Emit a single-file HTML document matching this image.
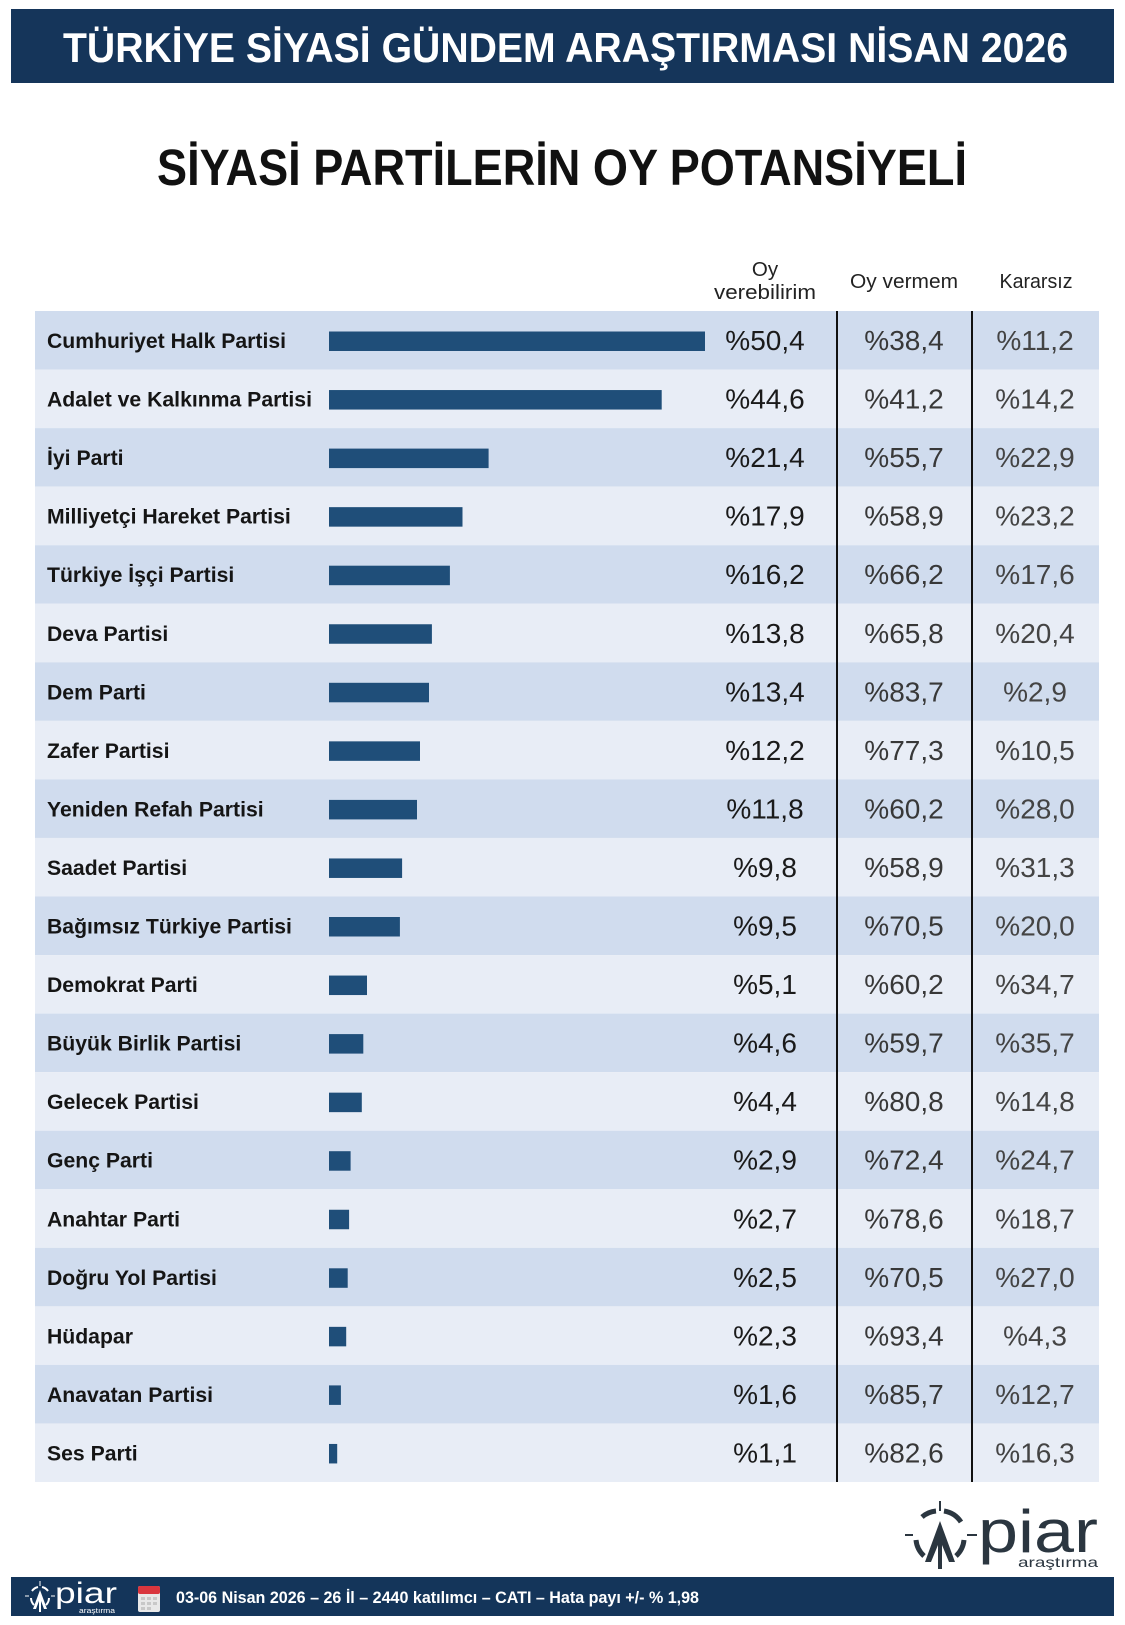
<!DOCTYPE html>
<html><head><meta charset="utf-8"><style>
html,body{margin:0;padding:0;background:#fff;}
svg{display:block;}
text{font-family:"Liberation Sans",Arial,sans-serif;}
</style></head><body>
<svg width="1125" height="1625" viewBox="0 0 1125 1625" xmlns="http://www.w3.org/2000/svg">
<rect x="0" y="0" width="1125" height="1625" fill="#ffffff"/>
<!-- header -->
<rect x="11" y="9" width="1103" height="74" fill="#15355a"/>
<text x="63" y="62" font-size="42" font-weight="bold" fill="#ffffff" textLength="1005" lengthAdjust="spacingAndGlyphs">TÜRKİYE SİYASİ GÜNDEM ARAŞTIRMASI NİSAN 2026</text>
<!-- title -->
<text x="157" y="185" font-size="51" font-weight="bold" fill="#111111" textLength="810" lengthAdjust="spacingAndGlyphs">SİYASİ PARTİLERİN OY POTANSİYELİ</text>
<!-- column headers -->
<g font-size="20.5" fill="#222222" text-anchor="middle">
<text x="765" y="276">Oy</text>
<text x="765" y="299" textLength="102" lengthAdjust="spacingAndGlyphs">verebilirim</text>
<text x="904" y="288" textLength="108" lengthAdjust="spacingAndGlyphs">Oy vermem</text>
<text x="1036" y="288" textLength="73" lengthAdjust="spacingAndGlyphs">Kararsız</text>
</g>
<!-- rows -->
<g id="rows">
<rect x="35" y="311.00" width="1064" height="58.55" fill="#d0dcee"/>
<rect x="35" y="369.55" width="1064" height="58.55" fill="#e8edf6"/>
<rect x="35" y="428.10" width="1064" height="58.55" fill="#d0dcee"/>
<rect x="35" y="486.65" width="1064" height="58.55" fill="#e8edf6"/>
<rect x="35" y="545.20" width="1064" height="58.55" fill="#d0dcee"/>
<rect x="35" y="603.75" width="1064" height="58.55" fill="#e8edf6"/>
<rect x="35" y="662.30" width="1064" height="58.55" fill="#d0dcee"/>
<rect x="35" y="720.85" width="1064" height="58.55" fill="#e8edf6"/>
<rect x="35" y="779.40" width="1064" height="58.55" fill="#d0dcee"/>
<rect x="35" y="837.95" width="1064" height="58.55" fill="#e8edf6"/>
<rect x="35" y="896.50" width="1064" height="58.55" fill="#d0dcee"/>
<rect x="35" y="955.05" width="1064" height="58.55" fill="#e8edf6"/>
<rect x="35" y="1013.60" width="1064" height="58.55" fill="#d0dcee"/>
<rect x="35" y="1072.15" width="1064" height="58.55" fill="#e8edf6"/>
<rect x="35" y="1130.70" width="1064" height="58.55" fill="#d0dcee"/>
<rect x="35" y="1189.25" width="1064" height="58.55" fill="#e8edf6"/>
<rect x="35" y="1247.80" width="1064" height="58.55" fill="#d0dcee"/>
<rect x="35" y="1306.35" width="1064" height="58.55" fill="#e8edf6"/>
<rect x="35" y="1364.90" width="1064" height="58.55" fill="#d0dcee"/>
<rect x="35" y="1423.45" width="1064" height="58.55" fill="#e8edf6"/>
</g>
<!-- bars -->
<g fill="#1f4e79">
<rect x="329" y="331.50" width="376.0" height="19.5"/>
<rect x="329" y="390.05" width="332.7" height="19.5"/>
<rect x="329" y="448.60" width="159.6" height="19.5"/>
<rect x="329" y="507.15" width="133.5" height="19.5"/>
<rect x="329" y="565.70" width="120.9" height="19.5"/>
<rect x="329" y="624.25" width="102.9" height="19.5"/>
<rect x="329" y="682.80" width="100.0" height="19.5"/>
<rect x="329" y="741.35" width="91.0" height="19.5"/>
<rect x="329" y="799.90" width="88.0" height="19.5"/>
<rect x="329" y="858.45" width="73.1" height="19.5"/>
<rect x="329" y="917.00" width="70.9" height="19.5"/>
<rect x="329" y="975.55" width="38.0" height="19.5"/>
<rect x="329" y="1034.10" width="34.3" height="19.5"/>
<rect x="329" y="1092.65" width="32.8" height="19.5"/>
<rect x="329" y="1151.20" width="21.6" height="19.5"/>
<rect x="329" y="1209.75" width="20.1" height="19.5"/>
<rect x="329" y="1268.30" width="18.7" height="19.5"/>
<rect x="329" y="1326.85" width="17.2" height="19.5"/>
<rect x="329" y="1385.40" width="11.9" height="19.5"/>
<rect x="329" y="1443.95" width="8.2" height="19.5"/>
</g>
<!-- labels -->
<g font-size="21.2" font-weight="bold" fill="#151515">
<text x="47" y="348.0">Cumhuriyet Halk Partisi</text>
<text x="47" y="406.6">Adalet ve Kalkınma Partisi</text>
<text x="47" y="465.1">İyi Parti</text>
<text x="47" y="523.7">Milliyetçi Hareket Partisi</text>
<text x="47" y="582.2">Türkiye İşçi Partisi</text>
<text x="47" y="640.8">Deva Partisi</text>
<text x="47" y="699.3">Dem Parti</text>
<text x="47" y="757.9">Zafer Partisi</text>
<text x="47" y="816.4">Yeniden Refah Partisi</text>
<text x="47" y="875.0">Saadet Partisi</text>
<text x="47" y="933.5">Bağımsız Türkiye Partisi</text>
<text x="47" y="992.1">Demokrat Parti</text>
<text x="47" y="1050.6">Büyük Birlik Partisi</text>
<text x="47" y="1109.2">Gelecek Partisi</text>
<text x="47" y="1167.7">Genç Parti</text>
<text x="47" y="1226.3">Anahtar Parti</text>
<text x="47" y="1284.8">Doğru Yol Partisi</text>
<text x="47" y="1343.4">Hüdapar</text>
<text x="47" y="1401.9">Anavatan Partisi</text>
<text x="47" y="1460.5">Ses Parti</text>
</g>
<!-- values col 1 -->
<g font-size="28" fill="#1a1a1a" text-anchor="middle">
<text x="765" y="350.0">%50,4</text>
<text x="765" y="408.6">%44,6</text>
<text x="765" y="467.1">%21,4</text>
<text x="765" y="525.7">%17,9</text>
<text x="765" y="584.2">%16,2</text>
<text x="765" y="642.8">%13,8</text>
<text x="765" y="701.3">%13,4</text>
<text x="765" y="759.9">%12,2</text>
<text x="765" y="818.4">%11,8</text>
<text x="765" y="877.0">%9,8</text>
<text x="765" y="935.5">%9,5</text>
<text x="765" y="994.1">%5,1</text>
<text x="765" y="1052.6">%4,6</text>
<text x="765" y="1111.2">%4,4</text>
<text x="765" y="1169.7">%2,9</text>
<text x="765" y="1228.3">%2,7</text>
<text x="765" y="1286.8">%2,5</text>
<text x="765" y="1345.4">%2,3</text>
<text x="765" y="1403.9">%1,6</text>
<text x="765" y="1462.5">%1,1</text>
</g>
<!-- values col 2 -->
<g font-size="28" fill="#383838" text-anchor="middle">
<text x="904" y="350.0">%38,4</text>
<text x="904" y="408.6">%41,2</text>
<text x="904" y="467.1">%55,7</text>
<text x="904" y="525.7">%58,9</text>
<text x="904" y="584.2">%66,2</text>
<text x="904" y="642.8">%65,8</text>
<text x="904" y="701.3">%83,7</text>
<text x="904" y="759.9">%77,3</text>
<text x="904" y="818.4">%60,2</text>
<text x="904" y="877.0">%58,9</text>
<text x="904" y="935.5">%70,5</text>
<text x="904" y="994.1">%60,2</text>
<text x="904" y="1052.6">%59,7</text>
<text x="904" y="1111.2">%80,8</text>
<text x="904" y="1169.7">%72,4</text>
<text x="904" y="1228.3">%78,6</text>
<text x="904" y="1286.8">%70,5</text>
<text x="904" y="1345.4">%93,4</text>
<text x="904" y="1403.9">%85,7</text>
<text x="904" y="1462.5">%82,6</text>
</g>
<!-- values col 3 -->
<g font-size="28" fill="#444444" text-anchor="middle">
<text x="1035" y="350.0">%11,2</text>
<text x="1035" y="408.6">%14,2</text>
<text x="1035" y="467.1">%22,9</text>
<text x="1035" y="525.7">%23,2</text>
<text x="1035" y="584.2">%17,6</text>
<text x="1035" y="642.8">%20,4</text>
<text x="1035" y="701.3">%2,9</text>
<text x="1035" y="759.9">%10,5</text>
<text x="1035" y="818.4">%28,0</text>
<text x="1035" y="877.0">%31,3</text>
<text x="1035" y="935.5">%20,0</text>
<text x="1035" y="994.1">%34,7</text>
<text x="1035" y="1052.6">%35,7</text>
<text x="1035" y="1111.2">%14,8</text>
<text x="1035" y="1169.7">%24,7</text>
<text x="1035" y="1228.3">%18,7</text>
<text x="1035" y="1286.8">%27,0</text>
<text x="1035" y="1345.4">%4,3</text>
<text x="1035" y="1403.9">%12,7</text>
<text x="1035" y="1462.5">%16,3</text>
</g>
<!-- vertical separators -->
<rect x="836" y="311" width="2" height="1171" fill="#111111"/>
<rect x="971" y="311" width="2" height="1171" fill="#111111"/>
<!-- big logo -->
<g stroke="#2b3640" fill="none" stroke-width="5">
<path d="M 922 1517 A 25 25 0 0 1 936 1511"/>
<path d="M 944 1511 A 25 25 0 0 1 961 1522"/>
<path d="M 964 1540 A 25 25 0 0 1 956 1556"/>
<path d="M 924 1556 A 25 25 0 0 1 916 1540"/>
<line x1="905" y1="1535" x2="913" y2="1535" stroke-width="2"/>
<line x1="967" y1="1535" x2="977" y2="1535" stroke-width="2"/>
<line x1="940" y1="1501" x2="940" y2="1511" stroke-width="2"/>
</g>
<polygon points="940,1521 955,1562 949,1562 942,1545 942,1569 938,1569 938,1545 931,1562 925,1562" fill="#2b3640"/>
<text x="978" y="1552" font-size="60" fill="#2b3640" textLength="120" lengthAdjust="spacingAndGlyphs">piar</text>
<text x="1018" y="1567" font-size="14" fill="#2b3640" textLength="80" lengthAdjust="spacingAndGlyphs">araştırma</text>
<!-- footer -->
<rect x="11" y="1577" width="1103" height="39" fill="#14355a"/>
<g stroke="#ffffff" fill="none" stroke-width="2">
<path d="M 32 1591 A 10 10 0 0 1 38 1587"/>
<path d="M 42 1587 A 10 10 0 0 1 48 1591"/>
<path d="M 49 1598 A 10 10 0 0 1 46 1605"/>
<path d="M 34 1605 A 10 10 0 0 1 31 1598"/>
<line x1="25" y1="1596" x2="29" y2="1596" stroke-width="1"/>
<line x1="51" y1="1596" x2="55" y2="1596" stroke-width="1"/>
<line x1="40" y1="1581" x2="40" y2="1586" stroke-width="1"/>
</g>
<polygon points="40,1590 47,1609 44,1609 41,1601 41,1612 39,1612 39,1601 36,1609 33,1609" fill="#ffffff"/>
<text x="55" y="1603" font-size="30" fill="#ffffff" textLength="62" lengthAdjust="spacingAndGlyphs">piar</text>
<text x="79" y="1613" font-size="7" fill="#ffffff" textLength="36" lengthAdjust="spacingAndGlyphs">araştırma</text>
<rect x="138" y="1586" width="22" height="26" rx="2" fill="#e8e8e8"/>
<rect x="138" y="1586" width="22" height="8" rx="2" fill="#d9363e"/>
<g fill="#c8c8c8">
<rect x="141" y="1597" width="4" height="3"/><rect x="147" y="1597" width="4" height="3"/><rect x="153" y="1597" width="4" height="3"/>
<rect x="141" y="1602" width="4" height="3"/><rect x="147" y="1602" width="4" height="3"/><rect x="153" y="1602" width="4" height="3"/>
<rect x="141" y="1607" width="4" height="3"/><rect x="147" y="1607" width="4" height="3"/>
</g>
<text x="176" y="1603" font-size="17" font-weight="bold" fill="#ffffff" textLength="523" lengthAdjust="spacingAndGlyphs">03-06 Nisan 2026 – 26 İl – 2440 katılımcı – CATI – Hata payı +/- % 1,98</text>
</svg>
</body></html>
